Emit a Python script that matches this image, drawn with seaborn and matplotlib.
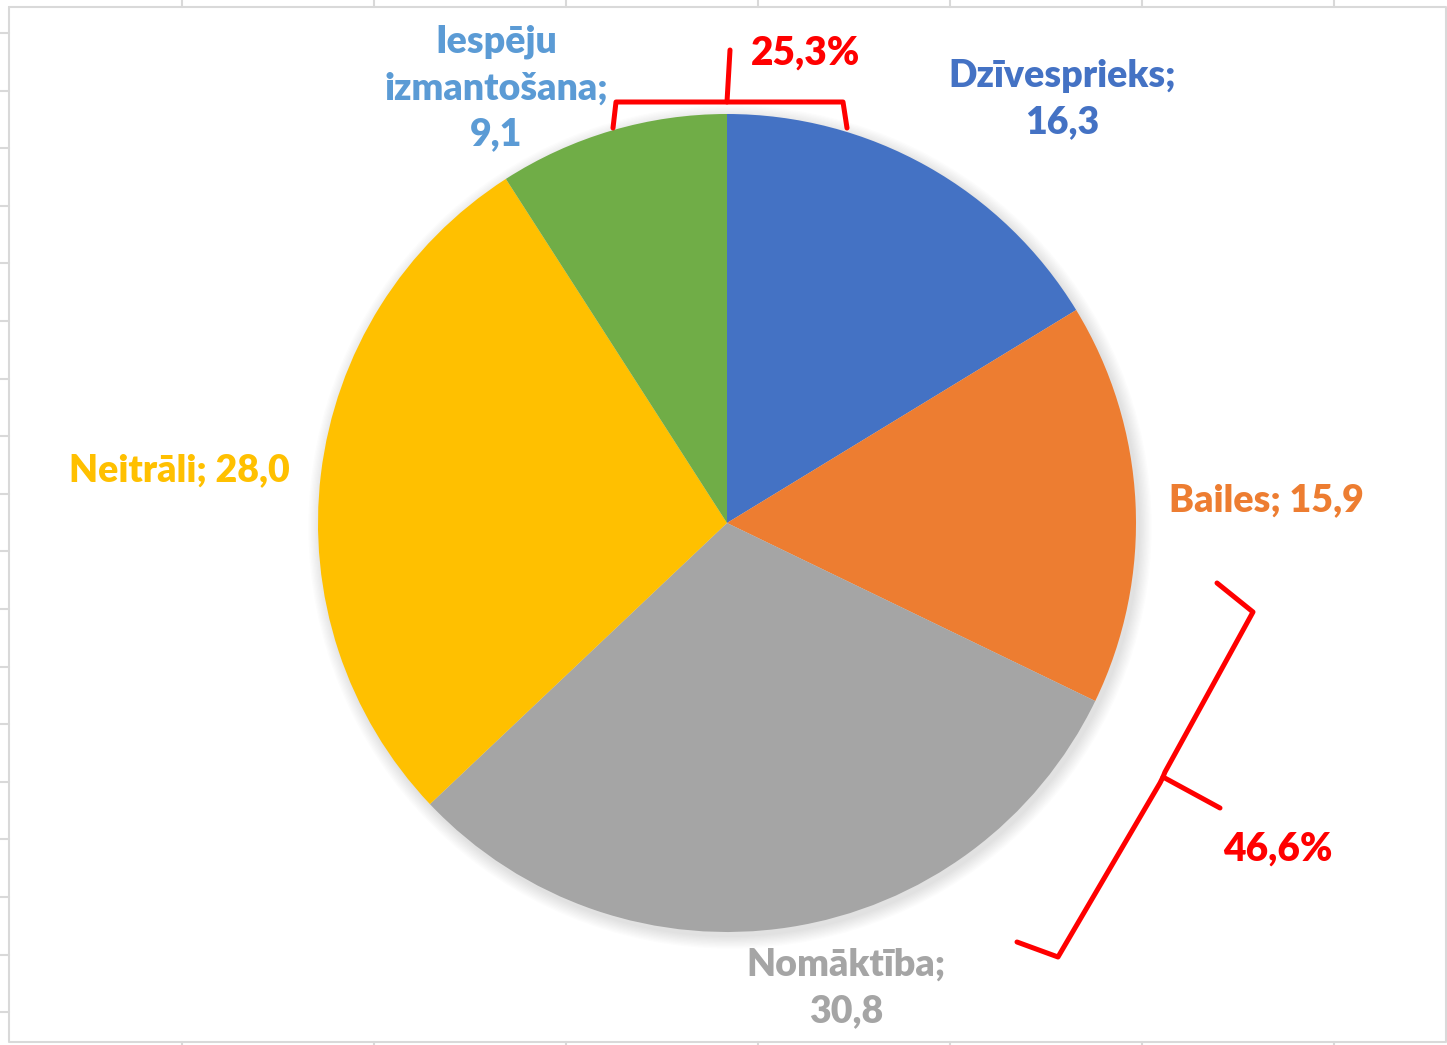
import matplotlib
matplotlib.use("Agg")
import matplotlib.pyplot as plt
from matplotlib.patches import Circle
import seaborn as sns

# dati
categories = ["Dzīvesprieks", "Bailes", "Nomāktība", "Neitrāli", "Iespēju izmantošana"]
values = [16.3, 15.9, 30.8, 28.0, 9.1]
label_texts = ["Dzīvesprieks;\n16,3", "Bailes; 15,9", "Nomāktība;\n30,8",
               "Neitrāli; 28,0", "Iespēju\nizmantošana;\n9,1"]
slice_colors = ["#4472C4", "#ED7D31", "#A5A5A5", "#FFC000", "#70AD47"]
label_colors = ["#4472C4", "#ED7D31", "#A5A5A5", "#FFC000", "#5B9BD5"]
label_pos = [(1062, 99), (1266, 500), (846, 988), (179, 470), (496, 88)]

group_texts = ["25,3%", "46,6%"]
group_pos = [(806, 53), (1278, 849)]

W, H = 1447, 1045
CENTER = (727, 523)
RADIUS = 409

sns.set_theme(style="white")
plt.rcParams["font.family"] = ["Lato", "DejaVu Sans"]

fig = plt.figure(figsize=(W / 100, H / 100), dpi=100)
ax = fig.add_axes([0, 0, 1, 1])

# mīksta ēna zem pīrāga
for i in range(10):
    ax.add_patch(Circle((CENTER[0] + 3, CENTER[1] + 4), RADIUS + 1 + i * 1.3,
                        color="black", alpha=0.012, lw=0, zorder=1))

# y ass ir apgriezta (pikseļi no augšas), tāpēc counterclock=True dod pulksteņrādītāja virzienu
ax.pie(values, colors=slice_colors, startangle=-90, counterclock=True,
       center=CENTER, radius=RADIUS, wedgeprops=dict(linewidth=0, zorder=2))

for txt, col, (x, y) in zip(label_texts, label_colors, label_pos):
    ax.text(x, y, txt, color=col, fontsize=27, fontweight="heavy",
            ha="center", va="center", linespacing=1.44, zorder=5)

for txt, (x, y) in zip(group_texts, group_pos):
    ax.text(x, y, txt, color="#FF0000", fontsize=28, fontweight="heavy",
            ha="center", va="center", zorder=5)

# sarkanās iekavas (roku zīmētas anotācijas)
red = dict(color="#FF0000", lw=3.6, solid_joinstyle="round", solid_capstyle="round", zorder=6)
ax.plot([613, 616, 843, 847], [128, 102, 102, 128], **red)
ax.plot([727, 730], [102, 50], **red)
ax.plot([1217, 1253, 1165, 1163, 1220], [583, 612, 772, 777, 808], **red)
ax.plot([1163, 1160, 1058, 1017], [777, 783, 957, 942], **red)

# Excel diagrammas rāmis un režģa fragmenti ārpusē
grid = dict(color="#D9D9D9", lw=1.5, zorder=0)
ax.plot([9, 1446, 1446, 9, 9], [7, 7, 1042, 1042, 7], **grid)
for gx in range(182, W, 192):
    ax.plot([gx, gx], [0, 7], **grid)
    ax.plot([gx, gx], [1042, H], **grid)
gy = 33.0
while gy < H:
    ax.plot([0, 9], [gy, gy], **grid)
    gy += 57.6

ax.set_xlim(0, W)
ax.set_ylim(H, 0)
ax.set_aspect("auto")
ax.axis("off")

fig.savefig("out.png", dpi=100, facecolor="white")
